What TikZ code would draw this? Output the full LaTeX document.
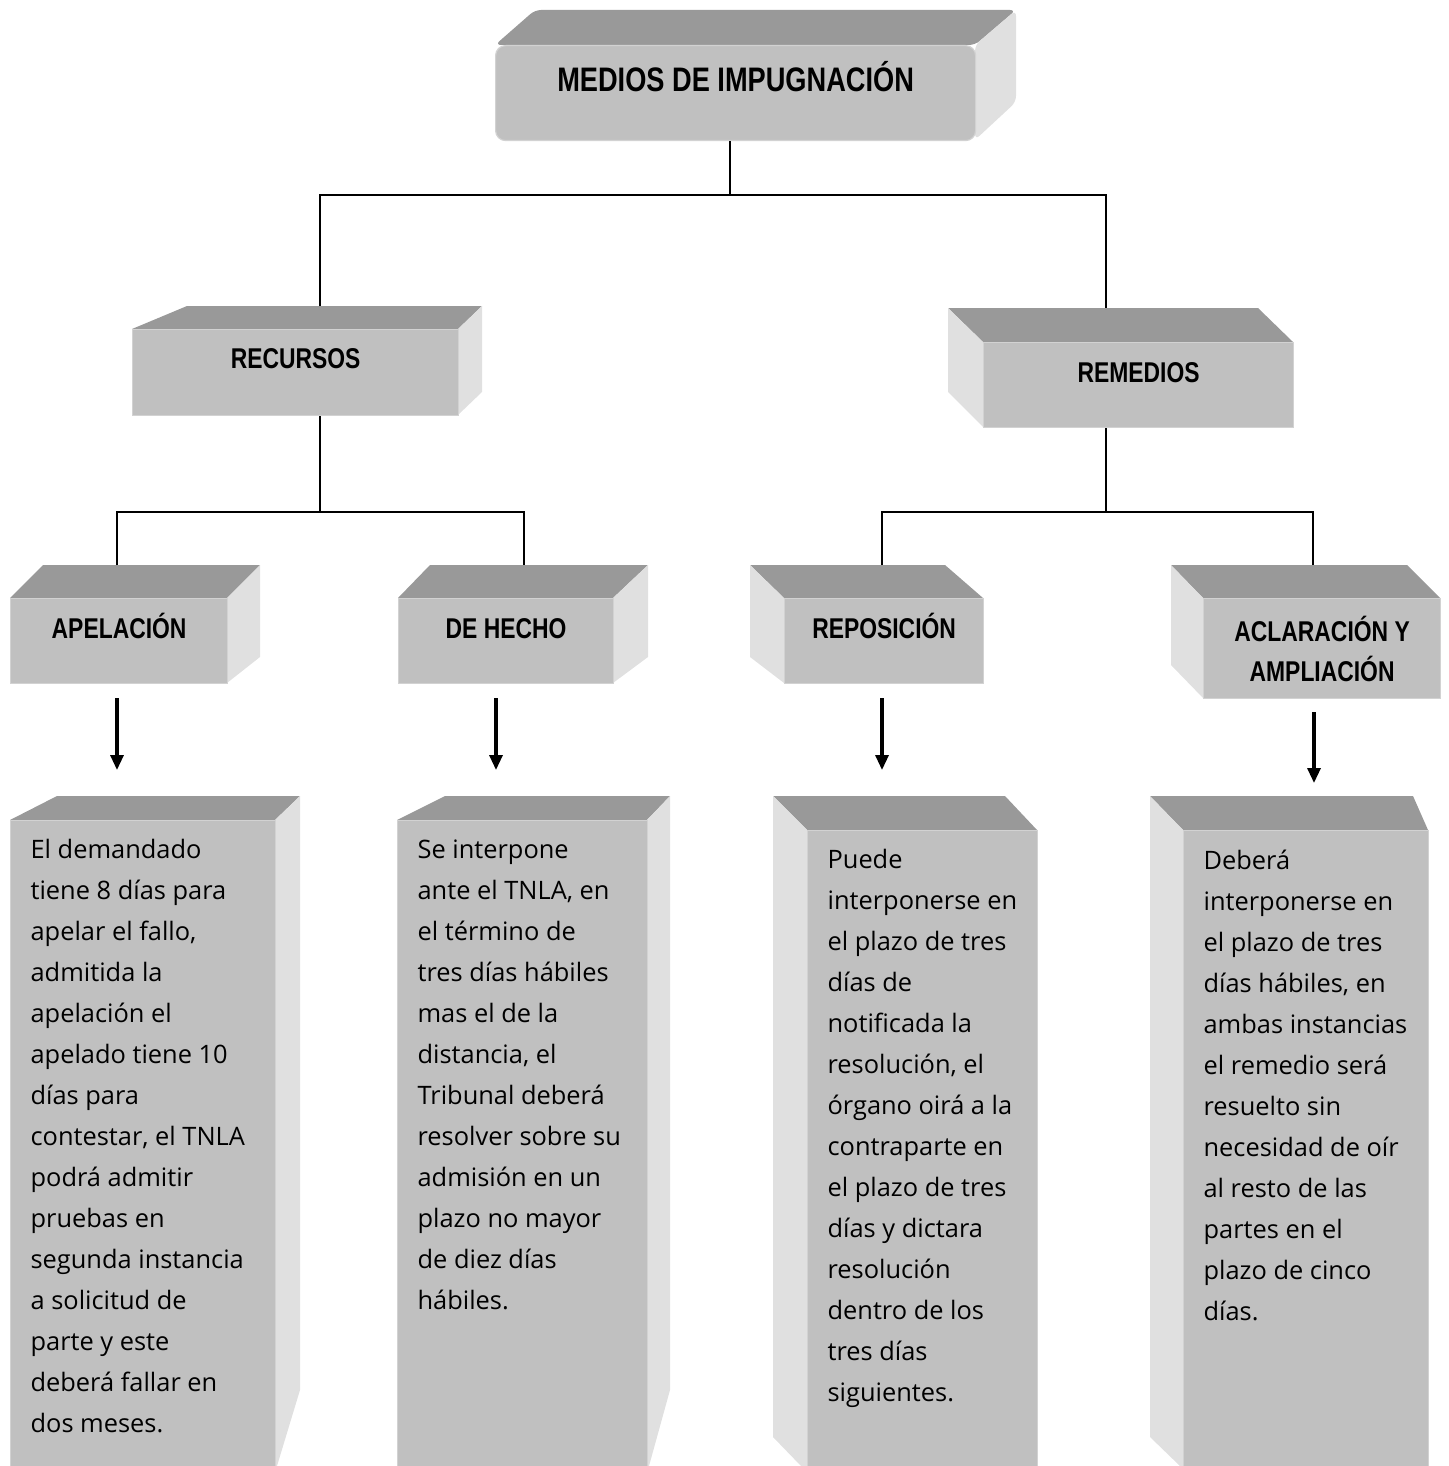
\documentclass[tikz,border=0pt]{standalone}
\usepackage{fontspec}
\setmainfont{Open Sans}
\newfontfamily\titfont[FakeStretch=0.8]{Liberation Sans}
\usetikzlibrary{arrows.meta}

\definecolor{frente}{HTML}{C0C0C0}
\definecolor{tapa}{HTML}{999999}
\definecolor{lado}{HTML}{E0E0E0}
\definecolor{borde}{HTML}{D2D2D2}

% texto de las cajas de abajo: alineado arriba a la izquierda
\newcommand{\txtcaja}[3]{\parbox[t][#2][t]{#1}{\leftskip=10pt\rightskip=0pt plus 1fil\vspace*{9.5pt}#3}}

\begin{document}
\begin{tikzpicture}[x=0.5pt, y=-0.5pt, >={Triangle[length=7.5pt,width=6.5pt]},
    cara/.style={fill=frente, draw=borde, line width=0.6pt, inner sep=0pt, anchor=north west},
    titulo/.style={cara, font=\titfont\bfseries\fontsize{14.3}{20}\selectfont, text height=10.2pt, text depth=12.5pt},
    cuerpo/.style={cara, font=\fontsize{12.7}{20.5}\selectfont},
    tapa3d/.style={fill=tapa},
    lado3d/.style={fill=lado},
    linea/.style={line width=0.75pt},
    flecha/.style={line width=1.6pt, ->}]

    \useasboundingbox (0,0) rectangle (1449,1466);

    % Caja principal
    \fill[tapa3d, rounded corners=3pt] (495,45) -- (535,10) -- (1016,10) -- (975,45) -- cycle;
    \fill[lado3d, rounded corners=3pt] (975,45) -- (1016,10) -- (1016,102) -- (975,140) -- cycle;
    \node[titulo, font=\titfont\bfseries\fontsize{17}{20}\selectfont, text height=12.2pt, text depth=13.5pt,
          rounded corners=5pt, minimum width=240pt, minimum height=47.5pt] (medios) at (495,45) {MEDIOS DE IMPUGNACIÓN};

    % Recursos
    \fill[tapa3d] (132,329) -- (187,306) -- (482,306) -- (458,329) -- cycle;
    \fill[lado3d] (458,329) -- (482,306) -- (482,392) -- (458,415) -- cycle;
    \node[titulo, text depth=14pt, minimum width=163pt, minimum height=43pt] (recursos) at (132,329) {RECURSOS};

    % Remedios
    \fill[tapa3d] (948,308) -- (1258,308) -- (1293,342) -- (983,342) -- cycle;
    \fill[lado3d] (948,308) -- (983,342) -- (983,427) -- (948,392) -- cycle;
    \node[titulo, minimum width=155pt, minimum height=42.5pt] (remedios) at (983,342) {REMEDIOS};

    % Segundo nivel
    \fill[tapa3d] (10,598) -- (43,565) -- (260,565) -- (227,598) -- cycle;
    \fill[lado3d] (227,598) -- (260,565) -- (260,657) -- (227,683) -- cycle;
    \node[titulo, minimum width=108.5pt, minimum height=42.5pt] (apelacion) at (10,598) {APELACIÓN};

    \fill[tapa3d] (398,598) -- (430,565) -- (648,565) -- (613,598) -- cycle;
    \fill[lado3d] (613,598) -- (648,565) -- (648,657) -- (613,683) -- cycle;
    \node[titulo, minimum width=107.5pt, minimum height=42.5pt] (hecho) at (398,598) {DE HECHO};

    \fill[tapa3d] (750,565) -- (945,565) -- (983,598) -- (784,598) -- cycle;
    \fill[lado3d] (750,565) -- (784,598) -- (784,683) -- (750,657) -- cycle;
    \node[titulo, minimum width=99.5pt, minimum height=42.5pt] (reposicion) at (784,598) {REPOSICIÓN};

    \fill[tapa3d] (1171,565) -- (1407,565) -- (1440,598) -- (1203,598) -- cycle;
    \fill[lado3d] (1171,565) -- (1203,598) -- (1203,698) -- (1171,665) -- cycle;
    \node[titulo, text height=, text depth=, align=center, minimum width=118.5pt, minimum height=50pt] (aclaracion) at (1203,598) {ACLARACIÓN Y\\AMPLIACIÓN};

    % Cajas de texto
    \fill[tapa3d] (10,820) -- (57,796) -- (300,796) -- (275,820) -- cycle;
    \fill[lado3d] (275,820) -- (300,796) -- (300,1390) -- (277,1466) -- (275,1466) -- cycle;
    \node[cuerpo] (texto1) at (10,820) {\txtcaja{132.5pt}{323pt}{El demandado\\tiene 8 días para\\apelar el fallo,\\admitida la\\apelación el\\apelado tiene 10\\días para\\contestar, el TNLA\\podrá admitir\\pruebas en\\segunda instancia\\a solicitud de\\parte y este\\deberá fallar en\\dos meses.}};

    \fill[tapa3d] (397,820) -- (445,796) -- (670,796) -- (647,820) -- cycle;
    \fill[lado3d] (647,820) -- (670,796) -- (670,1390) -- (649,1466) -- (647,1466) -- cycle;
    \node[cuerpo] (texto2) at (397,820) {\txtcaja{125pt}{323pt}{Se interpone\\ante el TNLA, en\\el término de\\tres días hábiles\\mas el de la\\distancia, el\\Tribunal deberá\\resolver sobre su\\admisión en un\\plazo no mayor\\de diez días\\hábiles.}};

    \fill[tapa3d] (773,796) -- (1005,796) -- (1037,830) -- (807,830) -- cycle;
    \fill[lado3d] (773,796) -- (807,830) -- (807,1466) -- (801,1466) -- (773,1437) -- cycle;
    \node[cuerpo] (texto3) at (807,830) {\txtcaja{115pt}{318pt}{Puede\\interponerse en\\el plazo de tres\\días de\\notificada la\\resolución, el\\órgano oirá a la\\contraparte en\\el plazo de tres\\días y dictara\\resolución\\dentro de los\\tres días\\siguientes.}};

    \fill[tapa3d] (1150,796) -- (1413,796) -- (1428,830) -- (1183,830) -- cycle;
    \fill[lado3d] (1150,796) -- (1183,830) -- (1183,1466) -- (1180,1466) -- (1150,1437) -- cycle;
    \node[cuerpo] (texto4) at (1183,830) {\txtcaja{122.5pt}{318pt}{Deberá\\interponerse en\\el plazo de tres\\días hábiles, en\\ambas instancias\\el remedio será\\resuelto sin\\necesidad de oír\\al resto de las\\partes en el\\plazo de cinco\\días.}};

    % Conectores
    \coordinate (nudo1) at (730,195);
    \coordinate (rec-t) at (320,306);
    \coordinate (rem-t) at (1106,308);
    \draw[linea] (medios.south -| nudo1) -- (nudo1);
    \draw[linea] (rec-t) |- (nudo1) -| (rem-t);

    \coordinate (nudo2) at (320,512);
    \coordinate (apel-t) at (117,565);
    \coordinate (hecho-t) at (524,565);
    \draw[linea] (recursos.south -| nudo2) -- (nudo2);
    \draw[linea] (apel-t) |- (nudo2) -| (hecho-t);

    \coordinate (nudo3) at (1106,512);
    \coordinate (repo-t) at (882,565);
    \coordinate (acla-t) at (1313,565);
    \draw[linea] (remedios.south -| nudo3) -- (nudo3);
    \draw[linea] (repo-t) |- (nudo3) -| (acla-t);

    % Flechas
    \coordinate (f1) at (117,698);
    \coordinate (f2) at (496,698);
    \coordinate (f3) at (882,698);
    \coordinate (f4) at (1314,712);
    \draw[flecha] (f1) -- ++(0,72);
    \draw[flecha] (f2) -- ++(0,72);
    \draw[flecha] (f3) -- ++(0,72);
    \draw[flecha] (f4) -- ++(0,71);

\end{tikzpicture}
\end{document}
